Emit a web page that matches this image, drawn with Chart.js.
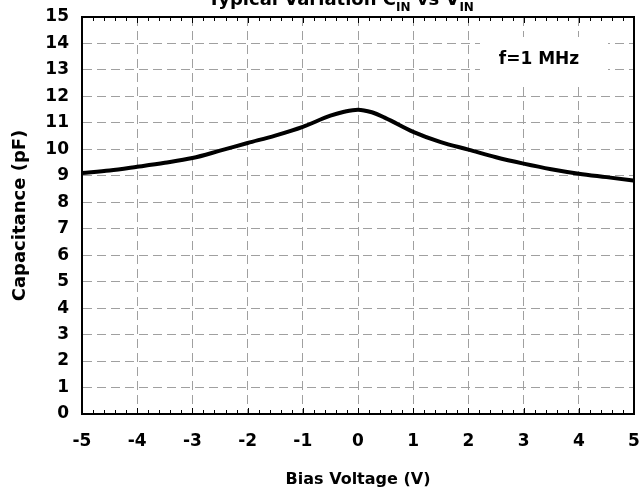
<!DOCTYPE html>
<html>
<head>
<meta charset="utf-8">
<script src="https://cdn.jsdelivr.net/npm/chart.js@4"></script>
<style>
  html, body { margin: 0; padding: 0; background: #fff; }
  #wrap { width: 640px; height: 494px; }
</style>
</head>
<body>
<div id="wrap"><canvas id="capChart"></canvas></div>
<script>
// bias voltage (V) and capacitance (pF)
const biasVolts = [-5, -4.5, -4, -3.5, -3, -2.5, -2, -1.5, -1, -0.5, -0.25, 0, 0.25, 0.5, 1, 1.5, 2, 2.5, 3, 3.5, 4, 4.5, 5];
const capacitance = [9.11, 9.2, 9.34, 9.49, 9.67, 9.95, 10.24, 10.52, 10.85, 11.27, 11.42, 11.5, 11.4, 11.18, 10.66, 10.27, 9.99, 9.7, 9.46, 9.25, 9.08, 8.95, 8.82];
const xTicks = [-5, -4, -3, -2, -1, 0, 1, 2, 3, 4, 5];
const yTicks = [0, 1, 2, 3, 4, 5, 6, 7, 8, 9, 10, 11, 12, 13, 14, 15];
const noteText = "f=1 MHz";

const FONT = "'DejaVu Sans', sans-serif";

let points = [];
for (let i in biasVolts) {
    points.push({ x: biasVolts[i], y: capacitance[i] });
}

// frame, inward minor ticks, note box and clipped title
const decorations = {
    id: 'decorations',
    afterDraw(chart) {
        let ctx = chart.ctx;
        let a = chart.chartArea;
        let xs = chart.scales.x;
        ctx.save();

        // minor ticks every 0.2 V, top and bottom
        ctx.strokeStyle = "#000";
        ctx.lineWidth = 1;
        for (let k = 0; k <= 50; k++) {
            let v = -5 + k * 0.2;
            let px = Math.round(xs.getPixelForValue(v)) + 0.5;
            let len = (k % 5 == 0) ? 6 : 4;
            ctx.beginPath();
            ctx.moveTo(px, a.bottom);
            ctx.lineTo(px, a.bottom - len);
            ctx.moveTo(px, a.top);
            ctx.lineTo(px, a.top + len);
            ctx.stroke();
        }

        // note box
        ctx.fillStyle = "#fff";
        ctx.fillRect(480, 37, 128, 50);
        ctx.fillStyle = "#000";
        ctx.font = "bold 17px " + FONT;
        ctx.textAlign = "center";
        ctx.textBaseline = "middle";
        ctx.fillText(noteText, 539, 60);

        // frame
        ctx.lineWidth = 2;
        ctx.strokeRect(a.left, a.top, a.right - a.left, a.bottom - a.top);

        // title, cut off at the top edge like the original
        ctx.textAlign = "left";
        ctx.textBaseline = "alphabetic";
        let parts = [["Typical Variation C", false], ["IN", true], [" vs V", false], ["IN", true]];
        let big = "bold 18px " + FONT;
        let small = "bold 12px " + FONT;
        let total = 0;
        for (let p of parts) {
            ctx.font = p[1] ? small : big;
            total += ctx.measureText(p[0]).width;
        }
        let x = 341 - total / 2;
        for (let p of parts) {
            ctx.font = p[1] ? small : big;
            ctx.fillText(p[0], x, p[1] ? 11 : 5);
            x += ctx.measureText(p[0]).width;
        }
        ctx.restore();
    }
};

let ctx = document.getElementById("capChart").getContext("2d");

let capChart = new Chart(ctx, {
    type: 'scatter',
    data: {
        datasets: [{
            label: "Capacitance",
            data: points,
            showLine: true,
            borderColor: "#000",
            borderWidth: 4,
            pointRadius: 0,
            fill: false,
            cubicInterpolationMode: 'monotone'
        }]
    },
    options: {
        responsive: true,
        maintainAspectRatio: false,
        animation: false,
        layout: { padding: { top: 17, right: 6, left: 0, bottom: 0 } },
        plugins: {
            legend: { display: false },
            title: { display: false },
            tooltip: { enabled: false }
        },
        scales: {
            x: {
                type: 'linear',
                min: -5,
                max: 5,
                afterBuildTicks: (s) => { s.ticks = xTicks.map(v => ({ value: v })); },
                afterFit: (s) => { s.height = 80; s.paddingLeft = 0; s.paddingRight = 0; },
                ticks: {
                    color: "#000",
                    font: { family: FONT, size: 17, weight: 'bold' },
                    padding: 17,
                    maxRotation: 0
                },
                grid: {
                    color: "#a0a0a0",
                    lineWidth: 1,
                    drawTicks: false
                },
                border: { color: "#000", width: 2, dash: [9, 5] },
                title: {
                    display: true,
                    text: "Bias Voltage (V)",
                    color: "#000",
                    font: { family: FONT, size: 16, weight: 'bold' },
                    padding: { top: 0, bottom: 5 }
                }
            },
            y: {
                min: 0,
                max: 15,
                afterBuildTicks: (s) => { s.ticks = yTicks.map(v => ({ value: v })); },
                afterFit: (s) => { s.width = 82; s.paddingTop = 0; s.paddingBottom = 0; },
                ticks: {
                    color: "#000",
                    font: { family: FONT, size: 17, weight: 'bold' },
                    padding: 13
                },
                grid: {
                    color: "#a0a0a0",
                    lineWidth: 1,
                    drawTicks: false
                },
                border: { color: "#000", width: 2, dash: [9, 5] },
                title: {
                    display: true,
                    text: "Capacitance (pF)",
                    color: "#000",
                    font: { family: FONT, size: 18, weight: 'bold' },
                    padding: { top: 10, bottom: 0 }
                }
            }
        }
    },
    plugins: [decorations]
});
</script>
</body>
</html>
